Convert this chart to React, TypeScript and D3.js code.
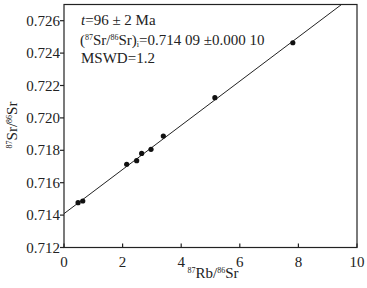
import * as d3 from "d3";

const rbSr = [0.48, 0.64, 2.14, 2.48, 2.65, 2.97, 3.39, 5.15, 7.81];
const srSr = [0.71477, 0.71487, 0.71714, 0.71736, 0.71781, 0.71806, 0.71888, 0.72125, 0.72464];
const xTicks = [0, 2, 4, 6, 8, 10];
const yTicks = [0.712, 0.714, 0.716, 0.718, 0.72, 0.722, 0.724, 0.726];
const intercept = 0.71409;
const slope = 0.001363;

export default function App() {
  const width = 367;
  const height = 288;
  const left = 64;
  const right = 357;
  const top = 4.5;
  const bottom = 247.5;
  const serif = { fontFamily: '"Liberation Serif"' };
  const ink = "#222";

  const x = d3.scaleLinear().domain([0, 10]).range([left, right]);
  const y = d3.scaleLinear().domain([0.712, 0.727]).range([bottom, top]);

  // isochron, cut off at the top of the frame
  const xEnd = Math.min(10, (0.727 - intercept) / slope);
  const fit = d3
    .line<number>()
    .x((d) => x(d))
    .y((d) => y(intercept + slope * d));

  const sup = (s: string) => (
    <tspan fontSize={8} dy={-5}>
      {s}
    </tspan>
  );

  return (
    <svg
      width={width}
      height={height}
      style={{ position: "absolute", left: 0, top: 0, background: "#fff" }}
    >
      <rect
        x={left}
        y={top}
        width={right - left}
        height={bottom - top}
        fill="none"
        stroke={ink}
        strokeWidth={1.2}
      />

      {/* y axis, ticks outward */}
      {yTicks.map((t) => (
        <g key={t}>
          <line x1={left - 4} x2={left} y1={y(t)} y2={y(t)} stroke={ink} strokeWidth={1.2} />
          <text x={left - 4} y={y(t) + 5} textAnchor="end" fontSize={15} fill={ink} style={serif}>
            {d3.format(".3f")(t)}
          </text>
        </g>
      ))}

      {/* x axis, ticks inward */}
      {xTicks.map((t) => (
        <g key={t}>
          <line x1={x(t)} x2={x(t)} y1={bottom} y2={bottom - 4} stroke={ink} strokeWidth={1.2} />
          <text x={x(t)} y={bottom + 19} textAnchor="middle" fontSize={15} fill={ink} style={serif}>
            {t}
          </text>
        </g>
      ))}

      <path d={fit([0, xEnd]) ?? ""} fill="none" stroke={ink} strokeWidth={1} />

      {rbSr.map((v, i) => (
        <circle key={i} cx={x(v)} cy={y(srSr[i])} r={2.6} fill="#111" />
      ))}

      <text x={213} y={278} textAnchor="middle" fontSize={15} fill={ink} style={serif}>
        {sup("87")}
        <tspan dy={5}>Rb/</tspan>
        {sup("86")}
        <tspan dy={5}>Sr</tspan>
      </text>

      <text
        transform="translate(17,125) rotate(-90)"
        textAnchor="middle"
        fontSize={15}
        fill={ink}
        style={serif}
      >
        {sup("87")}
        <tspan dy={5}>Sr/</tspan>
        {sup("86")}
        <tspan dy={5}>Sr</tspan>
      </text>

      <text x={81} y={25} fontSize={15} fill={ink} style={serif}>
        <tspan fontStyle="italic">t</tspan>=96 ± 2 Ma
      </text>
      <text x={80} y={45} fontSize={15} fill={ink} style={serif}>
        (
        {sup("87")}
        <tspan dy={5}>Sr/</tspan>
        {sup("86")}
        <tspan dy={5}>Sr)</tspan>
        <tspan fontSize={8} dy={2}>i</tspan>
        <tspan dy={-2}>=0.714 09 ±0.000 10</tspan>
      </text>
      <text x={81} y={63} fontSize={15} fill={ink} style={serif}>
        MSWD=1.2
      </text>
    </svg>
  );
}
